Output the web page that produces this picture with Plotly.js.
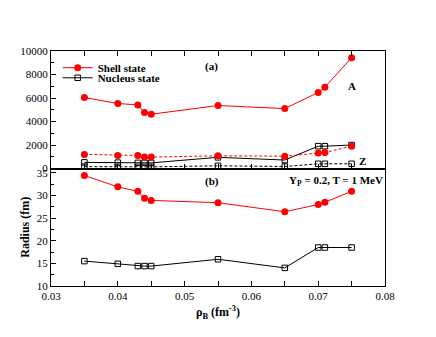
<!DOCTYPE html>
<html>
<head>
<meta charset="utf-8">
<script src="https://cdn.plot.ly/plotly-3.0.1.min.js"></script>
<style>
  html, body { margin: 0; padding: 0; background: #fff; }
  #plot { width: 436px; height: 337px; }
</style>
</head>
<body>
<div id="plot"></div>
<script>
// baryon density (fm^-3)
const rhoB = [0.035, 0.04, 0.043, 0.044, 0.045, 0.055, 0.065, 0.07, 0.071, 0.075];

// panel (a): mass number A and charge Z
const shellA = [6040, 5530, 5410, 4760, 4620, 5360, 5100, 6470, 6920, 9430];
const shellZ = [1200, 1110, 1110, 970, 970, 1080, 1050, 1310, 1370, 1900];
const nucleusA = [520, 500, 480, 480, 480, 950, 720, 1900, 1900, 2000];
const nucleusZ = [160, 150, 140, 140, 140, 230, 170, 400, 400, 400];

// panel (b): radius (fm)
const shellR = [34.4, 31.9, 30.9, 29.4, 28.9, 28.4, 26.4, 28.0, 28.5, 30.9];
const nucleusR = [15.5, 14.9, 14.4, 14.4, 14.4, 15.9, 14.0, 18.5, 18.5, 18.5];

const red = '#ff0000';
const serif = 'Liberation Serif, Times New Roman, serif';

const shellMarker = { symbol: 'circle', size: 7, color: red };
const nucMarker = { symbol: 'square-open', size: 5.5, color: '#000', line: { width: 1 } };
const dashed = '3px,2px';

const traces = [
    { x: rhoB, y: shellA, xaxis: 'x2', yaxis: 'y2', mode: 'lines+markers', name: '<b>Shell state</b>',
      legend: 'legend', line: { color: red, width: 1 }, marker: shellMarker },
    { x: rhoB, y: nucleusA, xaxis: 'x2', yaxis: 'y2', mode: 'lines+markers', name: '<b>Nucleus state</b>',
      legend: 'legend2', line: { color: '#000', width: 1 }, marker: nucMarker },
    { x: rhoB, y: shellZ, xaxis: 'x2', yaxis: 'y2', mode: 'lines+markers', showlegend: false,
      line: { color: red, width: 1, dash: dashed }, marker: shellMarker },
    { x: rhoB, y: nucleusZ, xaxis: 'x2', yaxis: 'y2', mode: 'lines+markers', showlegend: false,
      line: { color: '#000', width: 1, dash: dashed }, marker: nucMarker },
    { x: rhoB, y: shellR, mode: 'lines+markers', showlegend: false,
      line: { color: red, width: 1 }, marker: shellMarker },
    { x: rhoB, y: nucleusR, mode: 'lines+markers', showlegend: false,
      line: { color: '#000', width: 1 }, marker: nucMarker }
];

const axisCommon = {
    showgrid: false, zeroline: false,
    showline: true, linecolor: '#000', linewidth: 1,
    ticks: 'inside', ticklen: 5, tickcolor: '#000',
    tickfont: { family: serif, size: 11, color: '#000' }
};

const legendCommon = {
    xanchor: 'left', yanchor: 'middle', bgcolor: 'rgba(0,0,0,0)',
    font: { family: serif, size: 11, color: '#000' }, itemwidth: 30
};

const layout = {
    width: 436, height: 337,
    margin: { l: 51, r: 51, t: 51, b: 51 },
    paper_bgcolor: '#fff', plot_bgcolor: '#fff',
    font: { family: serif, color: '#000' },
    showlegend: true,
    legend: Object.assign({}, legendCommon, { x: 0.02, y: 0.929 }),
    legend2: Object.assign({}, legendCommon, { x: 0.02, y: 0.886 }),
    xaxis: Object.assign({}, axisCommon, {
        range: [0.03, 0.08], dtick: 0.01, tickformat: '.2f', anchor: 'y', mirror: true,
        minor: { dtick: 0.005, ticks: 'inside', ticklen: 5, tickcolor: '#000' },
        title: { text: '<b>ρ<sub>B</sub> (fm<sup>-3</sup>)</b>', font: { family: serif, size: 12 }, standoff: 6 }
    }),
    xaxis2: Object.assign({}, axisCommon, {
        range: [0.03, 0.08], dtick: 0.01, anchor: 'y2', matches: 'x', mirror: 'ticks',
        showticklabels: false,
        minor: { dtick: 0.005, ticks: 'inside', ticklen: 5, tickcolor: '#000' }
    }),
    yaxis: Object.assign({}, axisCommon, {
        domain: [0, 0.5], range: [10, 35.95], dtick: 5, anchor: 'x', mirror: true,
        minor: { dtick: 2.5, ticks: 'inside', ticklen: 3, tickcolor: '#000' },
        title: { text: '<b>Radius (fm)</b>', font: { family: serif, size: 12 }, standoff: 4 }
    }),
    yaxis2: Object.assign({}, axisCommon, {
        domain: [0.5, 1], range: [0, 10000], dtick: 2000, tickformat: 'd', anchor: 'x2', mirror: true,
        minor: { dtick: 1000, ticks: 'inside', ticklen: 3, tickcolor: '#000' }
    }),
    annotations: [
        { xref: 'x2', yref: 'y2', x: 0.0541, y: 8720, text: '<b>(a)</b>', showarrow: false,
          font: { family: serif, size: 11 } },
        { xref: 'x2', yref: 'y2', x: 0.0751, y: 7010, text: '<b>A</b>', showarrow: false,
          font: { family: serif, size: 11 } },
        { xref: 'x2', yref: 'y2', x: 0.0766, y: 680, text: '<b>Z</b>', showarrow: false,
          font: { family: serif, size: 11 } },
        { xref: 'x', yref: 'y', x: 0.0541, y: 33.1, text: '<b>(b)</b>', showarrow: false,
          font: { family: serif, size: 11 } },
        { xref: 'x', yref: 'y', x: 0.0727, y: 33.2, text: '<b>Y<sub>P</sub> = 0.2, T = 1 MeV</b>', showarrow: false,
          font: { family: serif, size: 11 } }
    ]
};

Plotly.newPlot('plot', traces, layout, { displayModeBar: false, staticPlot: true });
</script>
</body>
</html>
